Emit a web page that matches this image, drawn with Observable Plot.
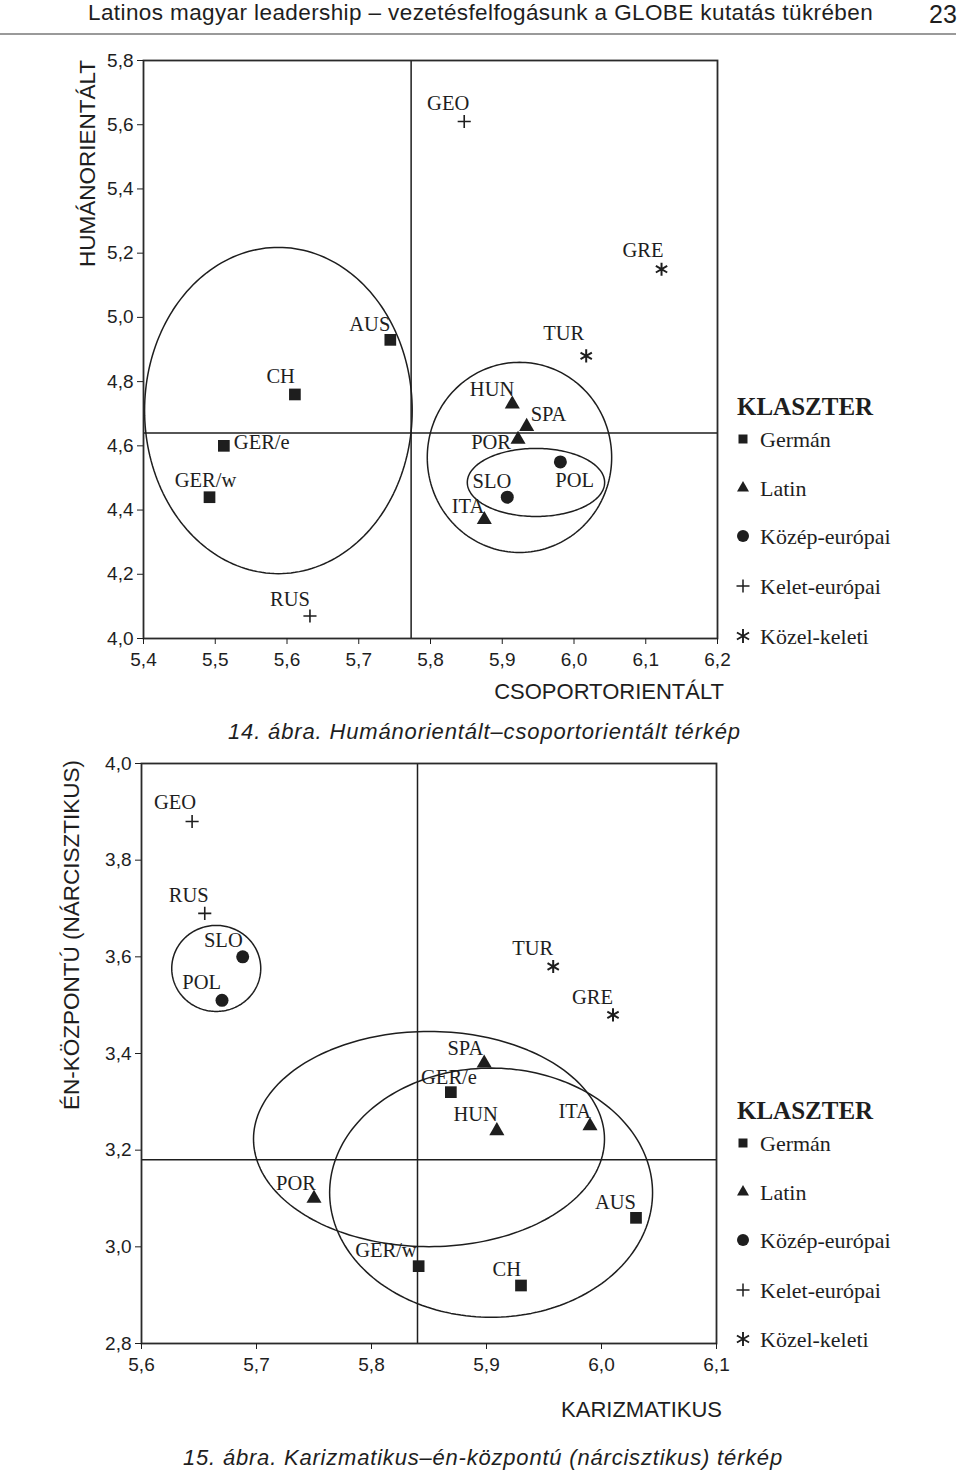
<!DOCTYPE html>
<html><head><meta charset="utf-8">
<script src="https://cdn.jsdelivr.net/npm/d3@7"></script>
<script src="https://cdn.jsdelivr.net/npm/@observablehq/plot@0.6"></script>
<style>
body{margin:0;background:#fff;}
#page{position:relative;width:960px;height:1472px;overflow:hidden;font-family:"Liberation Sans",Arial,sans-serif;color:#1e1e1e;background:#fff;}
.abs{position:absolute;white-space:nowrap;line-height:1.15;}
.chart{position:absolute;}
.ytitle{position:absolute;white-space:nowrap;font-size:22.5px;line-height:24px;height:24px;transform-origin:0 0;transform:rotate(-90deg) translateX(-100%);}
.legtitle{font-family:"Liberation Serif",serif;font-weight:bold;font-size:25px;}
.legitem{font-family:"Liberation Serif",serif;font-size:22px;}
</style></head><body><div id="page"></div>
<script>
// ---------- data ----------
const clusters = ["Germán","Latin","Közép-európai","Kelet-európai","Közel-keleti"];

// 14. ábra: Humánorientált – csoportorientált
const codes1   = ["GEO","GRE","AUS","TUR","CH","HUN","SPA","POR","GER/e","POL","GER/w","SLO","ITA","RUS"];
const cluster1 = ["Kelet-európai","Közel-keleti","Germán","Közel-keleti","Germán","Latin","Latin","Latin","Germán","Közép-európai","Germán","Közép-európai","Latin","Kelet-európai"];
const csoport  = [5.847,6.122,5.744,6.017,5.611,5.914,5.934,5.922,5.512,5.981,5.492,5.907,5.875,5.632];
const human    = [5.61,5.15,4.93,4.88,4.76,4.73,4.66,4.62,4.60,4.55,4.44,4.44,4.37,4.07];
const xTicks1  = [5.4,5.5,5.6,5.7,5.8,5.9,6.0,6.1,6.2];
const yTicks1  = [4.0,4.2,4.4,4.6,4.8,5.0,5.2,5.4,5.6,5.8];
const mean1X = 5.773, mean1Y = 4.64;
const ell1Name = ["Germán","Latin","Közép-európai"];
const ell1Cx = [5.588,5.924,5.947];
const ell1Cy = [4.710,4.564,4.486];
const ell1Rx = [0.1865,0.1285,0.0957];
const ell1Ry = [0.508,0.296,0.106];

// 15. ábra: Karizmatikus – én-központú
const codes2   = ["GEO","RUS","SLO","POL","TUR","GRE","SPA","GER/e","HUN","ITA","POR","AUS","GER/w","CH"];
const cluster2 = ["Kelet-európai","Kelet-európai","Közép-európai","Közép-európai","Közel-keleti","Közel-keleti","Latin","Germán","Latin","Latin","Latin","Germán","Germán","Germán"];
const karizma  = [5.644,5.655,5.688,5.670,5.958,6.010,5.898,5.869,5.909,5.990,5.750,6.030,5.841,5.930];
const enkozp   = [3.88,3.69,3.60,3.51,3.58,3.48,3.38,3.32,3.24,3.25,3.10,3.06,2.96,2.92];
const xTicks2  = [5.6,5.7,5.8,5.9,6.0,6.1];
const yTicks2  = [2.8,3.0,3.2,3.4,3.6,3.8,4.0];
const mean2X = 5.84, mean2Y = 3.18;
const ell2Name = ["Közép-európai","Latin","Germán"];
const ell2Cx = [5.665,5.850,5.904];
const ell2Cy = [3.576,3.223,3.112];
const ell2Rx = [0.0387,0.1526,0.1404];
const ell2Ry = [0.089,0.2226,0.2578];

// ---------- helpers ----------
const INK = "#1e1e1e";
const fmt = d => d.toFixed(1).replace(".", ",");
const page = document.getElementById("page");

function rowsOf(codes, cl, xs, ys){ return codes.map((c,i)=>({code:c, cluster:cl[i], x:xs[i], y:ys[i]})); }
function ellipseOutline(names, cx, cy, rx, ry){
  const pts = [];
  names.forEach((n,i)=>{ for(let k=0;k<=200;k++){ const t=k/200*2*Math.PI; pts.push({id:n+i, x:cx[i]+rx[i]*Math.cos(t), y:cy[i]+ry[i]*Math.sin(t)}); } });
  return pts;
}
const symStyle = {
  "Germán":        {symbol:"square",   r:6.6, fill:INK},
  "Latin":         {symbol:"triangle", r:5.6, fill:INK},
  "Közép-európai": {symbol:"circle",   r:6.5, fill:INK},
  "Kelet-európai": {symbol:"plus",     r:4.3, stroke:INK, strokeWidth:1.6},
  "Közel-keleti":  {symbol:"asterisk", r:6.2, stroke:INK, strokeWidth:2}
};
// label placement: [anchor, dx, dy]
const place1 = {"GEO":["end",5,-18],"GRE":["end",2,-19],"AUS":["end",0,-15],"TUR":["end",-2,-22],"CH":["end",0,-18],
  "HUN":["end",2,-15],"SPA":["start",4,-12],"POR":["end",-7,3],"GER/e":["start",10,-3],"GER/w":["middle",-4,-17],
  "SLO":["end",4,-16],"POL":["start",-5,19],"ITA":["end",0,-13],"RUS":["end",0,-17]};
const place2 = {"GEO":["end",4,-19],"RUS":["end",4,-18],"SLO":["end",0,-16],"POL":["end",-1,-18],"TUR":["end",0,-18],
  "GRE":["end",0,-17],"SPA":["end",-1,-15],"GER/e":["end",26,-15],"HUN":["end",1,-16],"ITA":["end",1,-15],
  "POR":["end",2,-15],"AUS":["end",0,-15],"GER/w":["end",-2,-16],"CH":["end",0,-16]};

function makeChart(o){
  const rows = rowsOf(o.codes, o.cl, o.xs, o.ys);
  const ell = ellipseOutline(o.en, o.ecx, o.ecy, o.erx, o.ery);
  const marks = [
    Plot.line(ell, {x:"x", y:"y", z:"id", stroke:INK, strokeWidth:1.5, curve:"linear"}),
    Plot.ruleX([o.mx], {stroke:INK, strokeWidth:1.5}),
    Plot.ruleY([o.my], {stroke:INK, strokeWidth:1.5}),
    Plot.frame({stroke:"#2a2a2a", strokeWidth:1.8}),
    ...clusters.map(c => Plot.dot(rows.filter(d=>d.cluster===c), {x:"x", y:"y", ...symStyle[c]})),
    ...rows.map(r => { const p = o.place[r.code]; return Plot.text([r], {x:"x", y:"y", text:"code", textAnchor:p[0], dx:p[1], dy:p[2],
        fontFamily:"Liberation Serif", fontSize:20.5, fill:INK}); }),
    Plot.axisX({ticks:o.xt, tickFormat:fmt, tickSize:6, tickPadding:8, label:null, stroke:INK, fontSize:19, fontFamily:"Liberation Sans"}),
    Plot.axisY({ticks:o.yt, tickFormat:fmt, tickSize:6, tickPadding:4, label:null, stroke:INK, fontSize:19, fontFamily:"Liberation Sans"})
  ];
  const svg = Plot.plot({
    width:o.width, height:o.height, marginLeft:o.ml, marginRight:o.mr, marginTop:o.mt, marginBottom:o.mb,
    x:{domain:o.xd, label:null}, y:{domain:o.yd, label:null},
    style:{fontFamily:"Liberation Sans, Arial, sans-serif", fontSize:"19px", color:INK, background:"transparent", overflow:"visible"},
    marks
  });
  const wrap = document.createElement("div");
  wrap.className = "chart"; wrap.style.left = o.left+"px"; wrap.style.top = o.top+"px";
  wrap.appendChild(svg); page.appendChild(wrap);
}

function addText(txt, css){ const d=document.createElement("div"); d.className="abs"; d.textContent=txt; Object.assign(d.style, css); page.appendChild(d); return d; }

function symbolSvg(c){
  const st = {"Germán":["square",9],"Latin":["triangle",12],"Közép-európai":["circle",12],"Kelet-európai":["plus",13],"Közel-keleti":["asterisk",14]}[c];
  const stroke = (c==="Kelet-európai"||c==="Közel-keleti");
  const typ = {square:d3.symbolSquare, triangle:d3.symbolTriangle, circle:d3.symbolCircle, plus:d3.symbolPlus, asterisk:d3.symbolAsterisk}[st[0]];
  let size;
  if (st[0]==="square") size = st[1]*st[1];
  else if (st[0]==="circle") size = Math.PI*(st[1]/2)**2;
  else if (st[0]==="triangle") { const yy = st[1]/(2*Math.sqrt(3)); size = yy*yy*3*Math.sqrt(3); }
  else if (st[0]==="plus") { const rr = st[1]/2/0.87559; size = rr*rr+2; }
  else { const rr = st[1]/2/0.59436; size = rr*rr-0.75; }
  const path = d3.symbol(typ, size)();
  return `<svg width="20" height="20" viewBox="-10 -10 20 20" style="position:absolute;left:-10px;top:-10px"><path d="${path}" fill="${stroke?"none":INK}" stroke="${stroke?INK:"none"}" stroke-width="${c==="Közel-keleti"?1.9:1.5}"/></svg>`;
}
function legend(titleY, ys){
  addText("KLASZTER", {left:"737px", top:(titleY-14)+"px"}).className = "abs legtitle";
  clusters.forEach((c,i)=>{
    const s = document.createElement("div"); s.style.position="absolute"; s.style.left="743px"; s.style.top=ys[i]+"px";
    s.innerHTML = symbolSvg(c); page.appendChild(s);
    const t = addText(c, {left:"760px", top:(ys[i]-12)+"px"}); t.className = "abs legitem";
  });
}

// ---------- page ----------
addText("Latinos magyar leadership – vezetésfelfogásunk a GLOBE kutatás tükrében", {left:"88px", top:"0px", fontSize:"22.5px", letterSpacing:"0.4px"});
addText("23", {left:"929px", top:"0px", fontSize:"25px"});
const rule = document.createElement("div"); Object.assign(rule.style,{position:"absolute", left:"0px", top:"33px", width:"956px", height:"2px", background:"#9a9a9a"}); page.appendChild(rule);

makeChart({codes:codes1, cl:cluster1, xs:csoport, ys:human, en:ell1Name, ecx:ell1Cx, ecy:ell1Cy, erx:ell1Rx, ery:ell1Ry,
  mx:mean1X, my:mean1Y, xt:xTicks1, yt:yTicks1, xd:[5.4,6.2], yd:[4.0,5.8], place:place1,
  left:0, top:40, width:730, height:638, ml:143, mr:13, mt:20, mb:40});
makeChart({codes:codes2, cl:cluster2, xs:karizma, ys:enkozp, en:ell2Name, ecx:ell2Cx, ecy:ell2Cy, erx:ell2Rx, ery:ell2Ry,
  mx:mean2X, my:mean2Y, xt:xTicks2, yt:yTicks2, xd:[5.6,6.1], yd:[2.8,4.0], place:place2,
  left:0, top:743, width:730, height:640, ml:141, mr:14, mt:20, mb:40});

const yt1 = addText("HUMÁNORIENTÁLT", {}); yt1.className="ytitle"; yt1.style.left="76px"; yt1.style.top="60px";
const yt2 = addText("ÉN-KÖZPONTÚ (NÁRCISZTIKUS)", {}); yt2.className="ytitle"; yt2.style.left="60px"; yt2.style.top="760px";

addText("CSOPORTORIENTÁLT", {right:(960-724)+"px", top:"679px", fontSize:"22px"});
addText("KARIZMATIKUS", {right:(960-722)+"px", top:"1397px", fontSize:"22px"});
addText("14. ábra. Humánorientált–csoportorientált térkép", {left:"228px", top:"719px", fontSize:"22px", fontStyle:"italic", letterSpacing:"0.85px"});
addText("15. ábra. Karizmatikus–én-központú (nárcisztikus) térkép", {left:"183px", top:"1445px", fontSize:"22px", fontStyle:"italic", letterSpacing:"0.8px"});

legend(407, [439,488,536,586,636]);
legend(1111, [1143,1192,1240,1290,1339]);
</script></body></html>
